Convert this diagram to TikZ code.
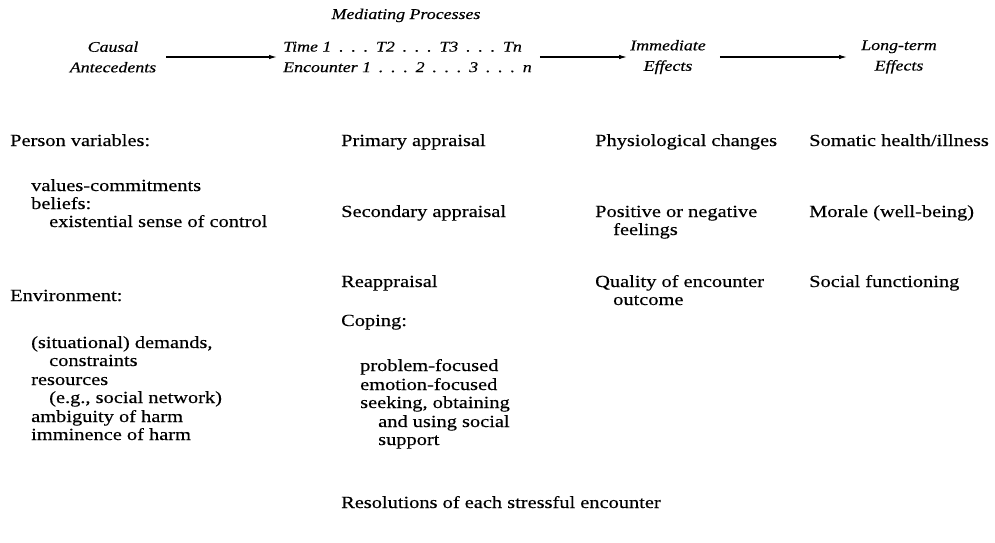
\documentclass[tikz,border=0pt]{standalone}
\usepackage{fontspec}
\setmainfont{Liberation Serif}[FakeStretch=1.2, FakeBold=0.35]
\usetikzlibrary{arrows.meta}
\newcommand\mydots{\hspace{7.8pt}.\hspace{7.8pt}.\hspace{7.8pt}.\hspace{7.8pt}}
\begin{document}
\begin{tikzpicture}[x=1pt,y=-1pt,
  body/.style={anchor=base west, inner sep=0pt, font=\fontsize{17}{18}\selectfont},
  head/.style={inner sep=0pt, align=center, font=\fontsize{14.9}{20.5}\selectfont\itshape},
  flow/.style={-{Latex[length=8pt,width=4.5pt]}, line width=1.2pt}]
\useasboundingbox (0,0) rectangle (995,542);
% header
\node[head] (ca) at (113,57) {Causal\\Antecedents};
\node[head, align=left, anchor=west] (mp) at (283,57) {Time 1\mydots T2\mydots T3\mydots Tn\\Encounter 1\mydots 2\mydots 3\mydots n};
\node[head, anchor=base] (mph) at (406,19) {Mediating Processes};
\node[head] (im) at (668,57) {Immediate\\Effects};
\node[head] (lt) at (899,57) {Long-term\\Effects};
\draw[flow, shorten <=10pt, shorten >=6pt] (ca.east) -- (mp.west);
\draw[flow, shorten <=8pt, shorten >=3pt] (mp.east) -- (im.west);
\draw[flow, shorten <=14pt, shorten >=14pt] (im.east) -- (lt.west);
% column 1
\node[body] (pv)  at (10,146) {Person variables:};
\node[body] (vc)  at (31,191) {values-commitments};
\node[body] (bel) at (31,209) {beliefs:};
\node[body] (esc) at (49,227) {existential sense of control};
\node[body] (env) at (10,301) {Environment:};
\node[body] (sd)  at (31,348) {(situational) demands,};
\node[body] (con) at (49,366) {constraints};
\node[body] (res) at (31,385) {resources};
\node[body] (eg)  at (49,403) {(e.g., social network)};
\node[body] (amb) at (31,422) {ambiguity of harm};
\node[body] (imh) at (31,440) {imminence of harm};
% column 2
\node[body] (pa)  at (341,146) {Primary appraisal};
\node[body] (sa)  at (341,217) {Secondary appraisal};
\node[body] (rea) at (341,287) {Reappraisal};
\node[body] (cop) at (341,326) {Coping:};
\node[body] (pf)  at (360,371) {problem-focused};
\node[body] (ef)  at (360,390) {emotion-focused};
\node[body] (sk)  at (360,408) {seeking, obtaining};
\node[body] (aus) at (378,427) {and using social};
\node[body] (sup) at (378,445) {support};
\node[body] (rso) at (341,508) {Resolutions of each stressful encounter};
% column 3
\node[body] (phy) at (595,146) {Physiological changes};
\node[body] (pos) at (595,217) {Positive or negative};
\node[body] (fee) at (613,235) {feelings};
\node[body] (qua) at (595,287) {Quality of encounter};
\node[body] (out) at (613,305) {outcome};
% column 4
\node[body] (som) at (809,146) {Somatic health/illness};
\node[body] (mor) at (809,217) {Morale (well-being)};
\node[body] (soc) at (809,287) {Social functioning};
\end{tikzpicture}
\end{document}
